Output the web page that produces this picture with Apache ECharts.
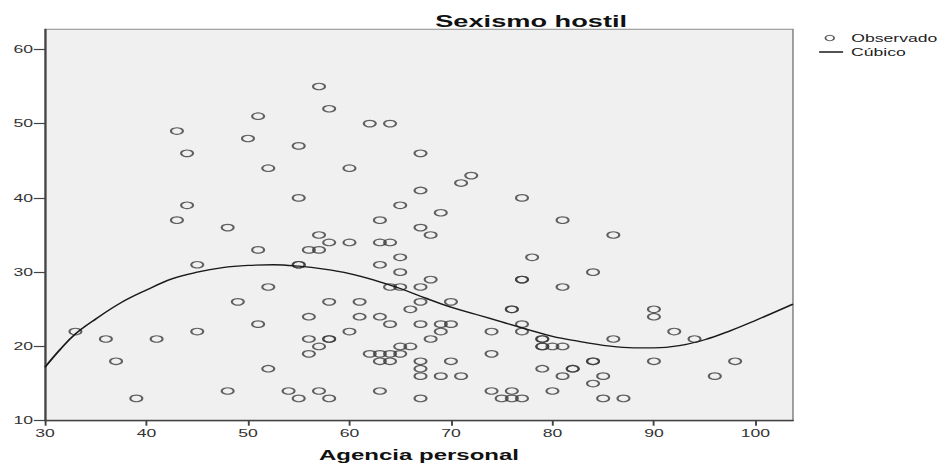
<!DOCTYPE html>
<html>
<head>
<meta charset="utf-8">
<script src="https://cdn.jsdelivr.net/npm/echarts@6/dist/echarts.min.js"></script>
<style>
html,body{margin:0;padding:0;background:#fff;}
#wrap{width:946px;height:468px;overflow:hidden;position:relative;background:#fff;}
#chart{width:591.25px;height:468px;transform:scaleX(1.6);transform-origin:0 0;}
</style>
</head>
<body>
<div id="wrap"><div id="chart"></div></div>
<script>
// Observed values (Agencia personal, Sexismo hostil)
const agencia = [
  57,51,43,50,55,44,52,55,44,43,48,57,
  58,62,64,67,60,72,71,67,77,65,69,63,81,67,68,86,
  58,60,63,64,
  51,56,57,
  65,78,
  45,55,55,63,
  65,84,
  68,77,77,
  52,64,65,67,81,
  49,58,61,67,70,
  66,76,76,90,
  56,61,63,90,
  51,64,67,69,70,77,
  33,45,60,69,74,77,92,
  36,41,56,58,58,68,79,79,86,94,
  57,65,66,79,79,80,81,
  56,62,63,64,65,74,
  37,63,64,67,70,84,84,90,98,
  52,67,79,82,82,
  67,69,71,81,85,96,
  84,
  48,54,57,63,74,76,80,
  39,55,58,67,75,76,77,85,87
];
const sexismo = [
  55,51,49,48,47,46,44,40,39,37,36,35,
  52,50,50,46,44,43,42,41,40,39,38,37,37,36,35,35,
  34,34,34,34,
  33,33,33,
  32,32,
  31,31,31,31,
  30,30,
  29,29,29,
  28,28,28,28,28,
  26,26,26,26,26,
  25,25,25,25,
  24,24,24,24,
  23,23,23,23,23,23,
  22,22,22,22,22,22,22,
  21,21,21,21,21,21,21,21,21,21,
  20,20,20,20,20,20,20,
  19,19,19,19,19,19,
  18,18,18,18,18,18,18,18,18,
  17,17,17,17,17,
  16,16,16,16,16,16,
  15,
  14,14,14,14,14,14,14,
  13,13,13,13,13,13,13,13,13
];
// Cubic fit line
const curveX = [30,31.5,33,35,37.5,40,42.5,45,47.5,50,52.5,55,57.5,60,62.5,65,67.5,70,72.5,75,77.5,80,82.5,85,87.5,90,92.5,95,97.5,100,103.7];
const curveY = [17.2,19.6,21.7,23.7,25.9,27.6,29.1,30.0,30.6,30.9,31.0,30.8,30.4,29.8,28.9,27.8,26.5,25.3,24.3,23.3,22.3,21.35,20.7,20.15,19.85,19.8,20.1,20.9,22.1,23.5,25.7];
const xTicks = [30,40,50,60,70,80,90,100];
const yTicks = [10,20,30,40,50,60];

const FONT = "'Liberation Sans', Arial, sans-serif";
const chart = echarts.init(document.getElementById('chart'), null, {renderer:'svg'});
chart.setOption({
  animation:false,
  backgroundColor:'#ffffff',
  title:{
    text:'Sexismo hostil', left:267, top:8,
    textStyle:{fontFamily:FONT, fontWeight:'bold', fontSize:17, color:'#111'}
  },
  legend:[
    {data:['Observado'], left:510.3, top:27.5, itemWidth:17, itemHeight:5.5, selectedMode:false,
     icon:'circle',
     itemStyle:{color:'transparent', borderColor:'#333', borderWidth:1.1},
     textStyle:{fontFamily:FONT, fontSize:11, color:'#222'}},
    {data:['Cúbico'], left:506.3, top:41.5, itemWidth:15, itemHeight:10, selectedMode:false,
     itemStyle:{opacity:0},
     lineStyle:{color:'#1a1a1a', width:1.3},
     textStyle:{fontFamily:FONT, fontSize:11, color:'#222'}}
  ],
  grid:{left:28.125, right:95.4, top:29.3, bottom:47.3, show:true,
        backgroundColor:'#f0f0f0', borderColor:'#8a8a8a', borderWidth:1},
  xAxis:{
    type:'value', min:30, max:103.7, interval:10,
    name:'Agencia personal', nameLocation:'middle', nameGap:27,
    nameTextStyle:{fontFamily:FONT, fontWeight:'bold', fontSize:15, color:'#111'},
    axisLine:{show:true, onZero:false, lineStyle:{color:'#444', width:1.3}},
    axisTick:{show:true, length:5, customValues:xTicks, lineStyle:{color:'#444', width:1.2}},
    axisLabel:{customValues:xTicks, margin:7, fontFamily:FONT, fontSize:11, color:'#333',
      formatter:v => (v % 10 === 0 ? String(v) : '')},
    splitLine:{show:false}
  },
  yAxis:{
    type:'value', min:10, max:62.7, interval:10,
    axisLine:{show:true, onZero:false, lineStyle:{color:'#444', width:1.3}},
    axisTick:{show:true, length:7, customValues:yTicks, lineStyle:{color:'#444', width:1.2}},
    axisLabel:{customValues:yTicks, margin:7.5, fontFamily:FONT, fontSize:11, color:'#333',
      formatter:v => (v % 10 === 0 ? String(v) : '')},
    splitLine:{show:false}
  },
  series:[
    {name:'Observado', type:'scatter',
     data:agencia.map((x,i)=>[x, sexismo[i]]),
     symbol:'circle', symbolSize:[7.5,6.5],
     itemStyle:{color:'transparent', borderColor:'#3a3a3a', borderWidth:1.2},
     emphasis:{disabled:true}, z:2},
    {name:'Cúbico', type:'line', color:'#1a1a1a',
     data:curveX.map((x,i)=>[x, curveY[i]]),
     smooth:0.4, showSymbol:false, symbol:'none',
     itemStyle:{color:'#1a1a1a'},
     lineStyle:{color:'#1a1a1a', width:1.3},
     emphasis:{disabled:true}, z:3}
  ]
});
</script>
</body>
</html>
